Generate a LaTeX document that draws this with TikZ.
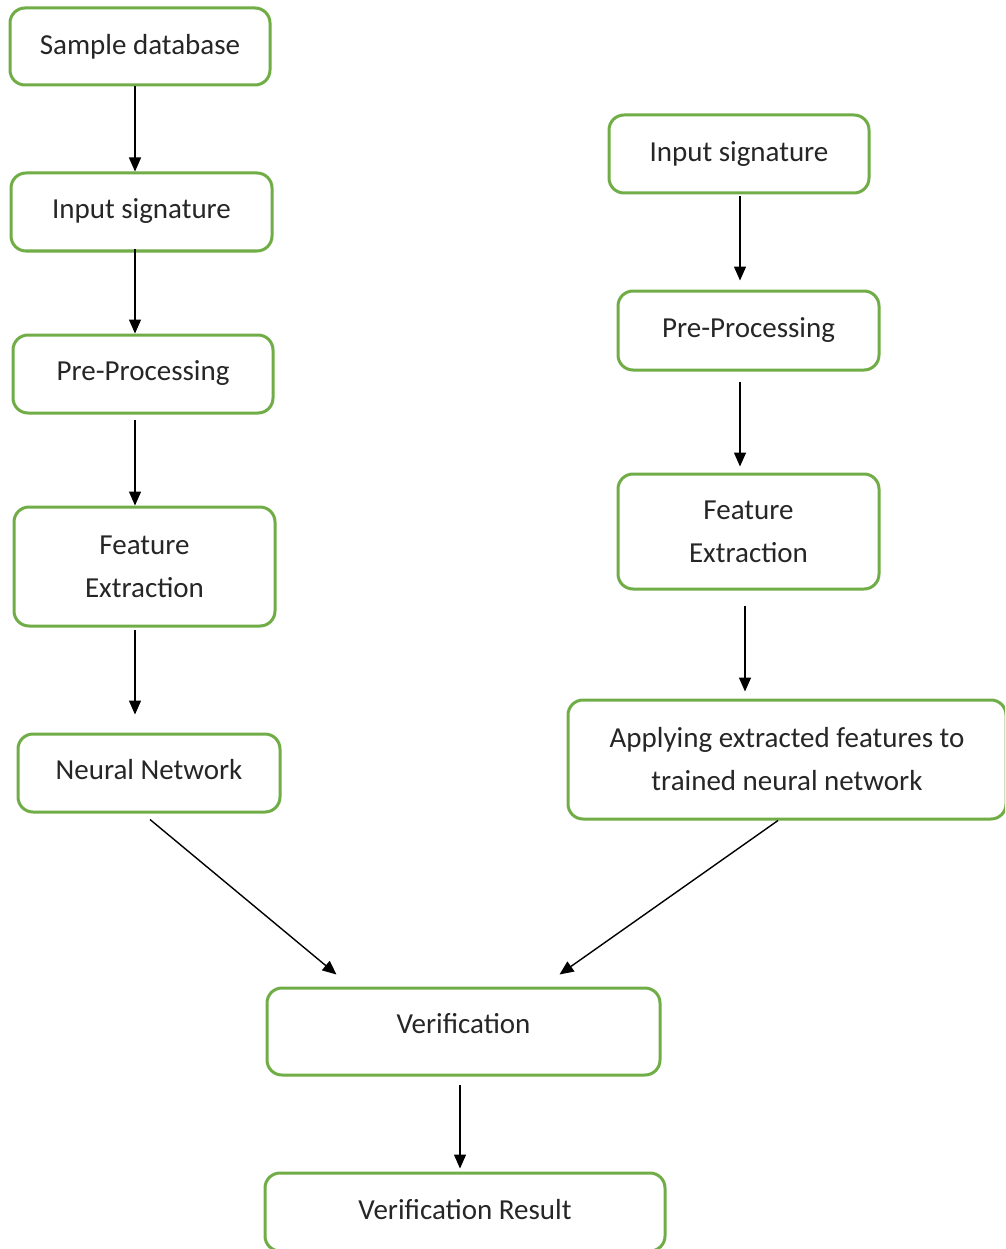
\documentclass[tikz,border=0pt]{standalone}
\usepackage{fontspec}
\setmainfont{Carlito}
\usetikzlibrary{arrows.meta,calc}
\definecolor{boxgreen}{HTML}{70AD47}
% lift a one-line label above the box centre (net lift is half the raise)
\newcommand{\liftlabel}[2]{\raisebox{#1}{#2}}
\begin{document}
\begin{tikzpicture}[x=1pt,y=-1pt,
  flowbox/.style={draw=boxgreen,line width=3pt,rounded corners=15pt,fill=white,
    inner sep=0pt,align=center,font=\fontsize{29}{43}\selectfont,text=black!85},
  arr/.style={draw=black,line width=1.4pt,-{Triangle[length=14pt,width=12pt]}}]
\useasboundingbox (0,0) rectangle (1005,1249);
\clip (0,0) rectangle (1005,1249);

% left column: training branch
\node[flowbox,minimum width=260pt,minimum height=77pt] (sd)  at (140,46.5)  {\liftlabel{4pt}{Sample database}};
\node[flowbox,minimum width=261pt,minimum height=78pt] (in1) at (141.5,212) {\liftlabel{6pt}{Input signature}};
\node[flowbox,minimum width=260pt,minimum height=78pt] (pp1) at (143,374)   {\liftlabel{6pt}{Pre-Processing}};
\node[flowbox,minimum width=261pt,minimum height=119pt] (fe1) at (144.5,566.5) {Feature\\Extraction};
\node[flowbox,minimum width=262pt,minimum height=78pt] (nn)  at (149,773)   {\liftlabel{8pt}{Neural Network}};

% right column: testing branch
\node[flowbox,minimum width=260pt,minimum height=78pt] (in2) at (739,154)   {\liftlabel{4pt}{Input signature}};
\node[flowbox,minimum width=261pt,minimum height=79pt] (pp2) at (748.5,330.5) {\liftlabel{4pt}{Pre-Processing}};
\node[flowbox,minimum width=261pt,minimum height=115pt] (fe2) at (748.5,531.5) {Feature\\Extraction};
\node[flowbox,minimum width=438pt,minimum height=119pt] (ap)  at (787,759.5) {Applying extracted features to\\trained neural network};

% common tail
\node[flowbox,minimum width=393pt,minimum height=87pt] (ver) at (463.5,1031.5) {\liftlabel{16pt}{Verification}};
\node[flowbox,minimum width=400pt,minimum height=78pt] (res) at (465,1212)   {\liftlabel{6pt}{Verification Result}};

% connectors
\coordinate (a1) at ($(sd.south)+(-5,0)$);
\draw[arr] (a1) -- (a1 |- in1.north);
\coordinate (a2) at ($(in1.south)+(-6.5,-3)$);
\draw[arr] (a2) -- (a2 |- pp1.north);
\coordinate (a3) at ($(pp1.south)+(-8,5)$);
\draw[arr] (a3) -- (a3 |- fe1.north);
\coordinate (a4) at ($(fe1.south)+(-9.5,2)$);
\draw[arr,shorten >=18pt] (a4) -- (a4 |- nn.north);
\coordinate (a5) at ($(nn.south)+(1,6)$);
\coordinate (a5e) at ($(ver.north west)+(71,-12)$);
\draw[arr] (a5) -- (a5e);

\coordinate (b1) at ($(in2.south)+(1,2)$);
\draw[arr,shorten >=9pt] (b1) -- (b1 |- pp2.north);
\coordinate (b2) at ($(pp2.south)+(-8.5,10)$);
\draw[arr,shorten >=6pt] (b2) -- (b2 |- fe2.north);
\coordinate (b3) at ($(fe2.south)+(-3.5,15)$);
\draw[arr,shorten >=7pt] (b3) -- (b3 |- ap.north);
\coordinate (b4) at ($(ap.south)+(-9,0)$);
\coordinate (b4e) at ($(ver.north east)+(-102,-12)$);
\draw[arr] (b4) -- (b4e);

\coordinate (c1) at ($(ver.south)+(-3.5,8)$);
\draw[arr,shorten >=3pt] (c1) -- (c1 |- res.north);
\end{tikzpicture}
\end{document}
